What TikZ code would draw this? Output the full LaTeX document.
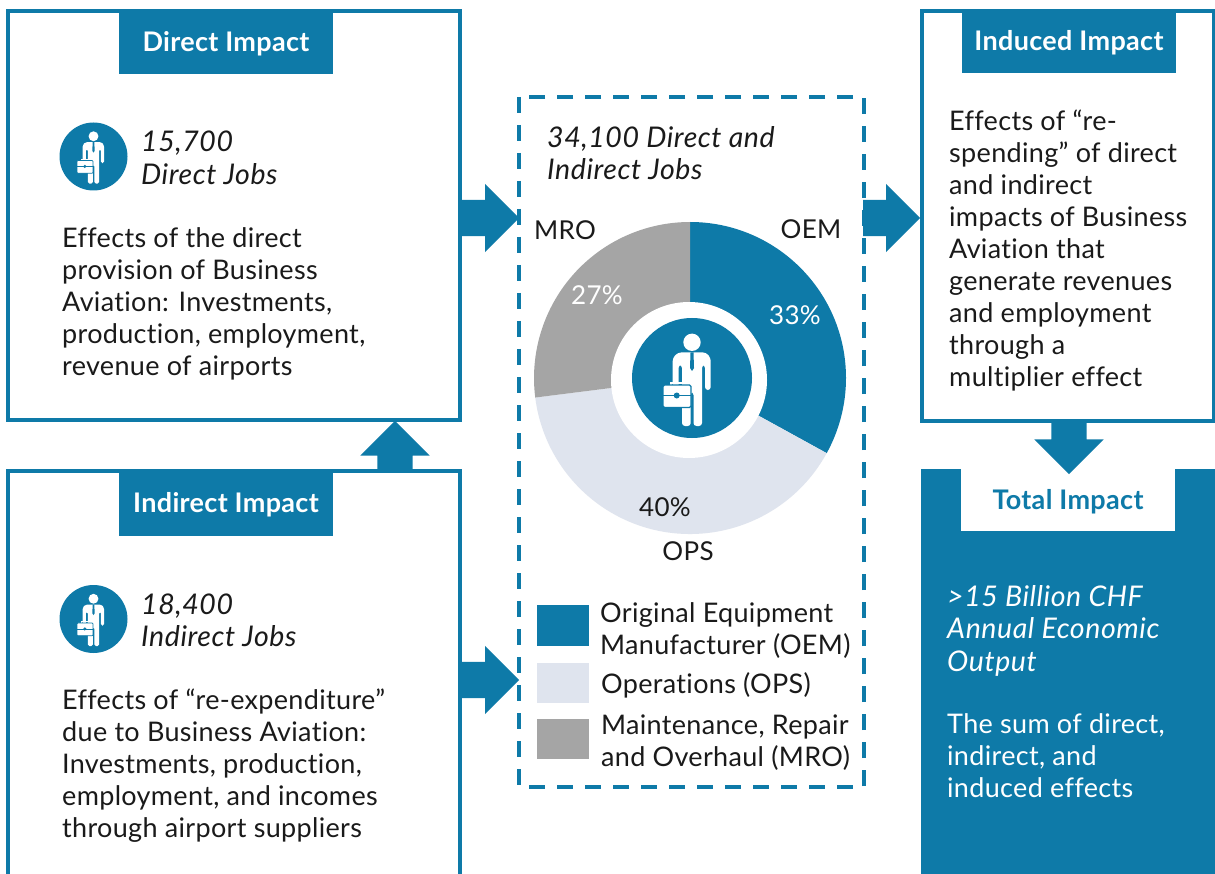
\documentclass[tikz,border=0pt]{standalone}
\usepackage{fontspec}
\setmainfont{Lato}[LetterSpace=1.2,Ligatures=NoCommon]
\usetikzlibrary{shapes.arrows}
\definecolor{tealblue}{HTML}{0E7AA8}
\definecolor{palegrey}{HTML}{DFE4EE}
\definecolor{midgrey}{HTML}{A5A5A5}
\definecolor{ink}{HTML}{1A1A1A}
\newcommand{\sz}{\fontsize{27}{32}\selectfont}
\newcommand{\manicon}[3]{% x, y, scale
  \begin{scope}[shift={(#1,#2)},scale=#3]
    \fill[white] (0,-35.7) circle (8.7);
    \fill[white,rounded corners=3*#3] (-19.3,12) -- (-19.3,-20) -- (-14,-25.5) -- (14,-25.5) -- (18.7,-20) -- (18.7,12) -- (13,12) -- (13,-13) -- (10,-13) -- (10,48) -- (1.5,48) -- (1.5,14) -- (-1.3,14) -- (-1.3,48) -- (-10,48) -- (-10,-13) -- (-13.5,-13) -- (-13.5,12) -- cycle;
    \fill[tealblue] (-1.5,-25.5) -- (1.5,-25.5) -- (2,-10) -- (0,-7) -- (-2,-10) -- cycle;
    \draw[white,line width=1.6*#3,fill=none] (-21,8) -- (-21,5) -- (-9,5) -- (-9,8);
    \fill[white,draw=tealblue,line width=1.2*#3,rounded corners=1.5*#3] (-29,7) rectangle (-1,29.5);
    \draw[tealblue,line width=1*#3] (-29,17.5) -- (-1,17.5);
    \fill[tealblue] (-15.3,17.5) circle (3);
  \end{scope}}
\tikzset{
  framebox/.style={draw=tealblue,line width=4pt,fill=white},
  headblue/.style={fill=tealblue,text=white,inner sep=0,font=\sz\bfseries,minimum width=214pt,minimum height=63pt,text height=15pt,text depth=0pt},
  headwhite/.style={fill=white,text=tealblue,inner sep=0,font=\sz\bfseries,minimum width=214pt,minimum height=62pt,text height=18pt,text depth=0pt},
  body/.style={anchor=north west,inner sep=0,align=left,font=\sz,text=ink},
  jobs/.style={anchor=north west,inner sep=0,align=left,font=\fontsize{28.5}{32.5}\selectfont\itshape\addfontfeature{LetterSpace=2},text=ink},
  swatch/.style={minimum width=52pt,inner sep=0,draw=none},
  blockh/.style={single arrow,anchor=tail,fill=tealblue,draw=none,inner xsep=0pt,inner ysep=18pt,single arrow head indent=0pt,minimum height=57pt,minimum width=68pt,single arrow head extend=16pt},
  blockv/.style={single arrow,anchor=tail,fill=tealblue,draw=none,inner ysep=0pt,inner xsep=17.5pt,single arrow head indent=0pt,minimum width=69pt,single arrow head extend=17pt},
  pct/.style={font=\fontsize{26}{32}\selectfont,inner sep=0},
  lbl/.style={font=\fontsize{26}{32}\selectfont,inner sep=0,text=ink}
}
\begin{document}
\begin{tikzpicture}[x=1pt,y=-1pt]
\useasboundingbox (0,0) rectangle (1215,874);
\fill[white] (0,0) rectangle (1215,874);

% frames
\node[framebox,minimum width=452pt,minimum height=409pt,inner sep=0] (direct) at (234,215.5) {};
\fill[white] (8,472) rectangle (460,874);
\draw[draw=tealblue,line width=4pt] (8,880) -- (8,471) -- (460,471) -- (460,880);
\node[framebox,minimum width=292pt,minimum height=410pt,inner sep=0] (induced) at (1068,216) {};
\fill[tealblue] (921,469) rectangle (1215,874);
\draw[dash pattern=on 16pt off 12pt,draw=tealblue,line width=4pt] (519,97) rectangle (864,787);

% headers
\node[headblue,text height=19pt] (hdirect) at (226,42.5) {Direct Impact};
\node[headblue] (hindirect) at (226,504.5) {Indirect Impact};
\node[headblue,text height=17pt] (hinduced) at (1069,42) {Induced Impact};
\node[headwhite] (htotal) at (1068,500) {Total Impact};

% arrows
\node[blockh] (a1) at (462,218) {};
\node[blockh] (a2) at (462,680) {};
\node[blockh] (a3) at (863,218) {};
\node[blockv,shape border rotate=90,minimum height=50pt] (a4) at (395,471) {};
\node[blockv,shape border rotate=270,minimum height=51pt] (a5) at (1069,423) {};

% pie
\fill[tealblue] (690,378) -- ++(90:156pt) arc[start angle=90,end angle=-28.8,radius=156pt] -- cycle;
\fill[palegrey] (690,378) -- ++(-28.8:156pt) arc[start angle=-28.8,end angle=-172.8,radius=156pt] -- cycle;
\fill[midgrey] (690,378) -- ++(-172.8:156pt) arc[start angle=-172.8,end angle=-270,radius=156pt] -- cycle;
\fill[white] (689,380) circle (78pt);
\fill[tealblue] (692,378) circle (60pt);
\manicon{692}{378}{1}

% small icons
\fill[tealblue] (93.5,156.5) circle (34pt);
\manicon{93.5}{156.5}{0.567}
\fill[tealblue] (93.5,619) circle (34pt);
\manicon{93.5}{619}{0.567}

% texts left
\node[jobs] (j1) at (141,131) {15,700\\Direct Jobs};
\node[body] (t1) at (62,227) {Effects of the direct\\provision of Business\\Aviation: Investments,\\production, employment,\\revenue of airports};
\node[jobs] (j2) at (141,593.5) {18,400\\Indirect Jobs};
\node[body] (t2) at (62,689) {Effects of “re-expenditure”\\due to Business Aviation:\\Investments, production,\\employment, and incomes\\through airport suppliers};

% centre
\node[jobs] (j3) at (547,126) {34,100 Direct and\\Indirect Jobs};
\node[lbl] (mro) at (565,230) {MRO};
\node[lbl] (oem) at (811,229) {OEM};
\node[lbl] (ops) at (688,551) {OPS};
\node[pct,text=white] (p33) at (795,315) {33\%};
\node[pct,text=white] (p27) at (597,295) {27\%};
\node[pct,text=ink] (p40) at (665,507) {40\%};

% legend
\node[swatch,fill=tealblue,minimum height=41pt] (k1) at (563,625.5) {};
\node[swatch,fill=palegrey,minimum height=40pt] (k2) at (563,683) {};
\node[swatch,fill=midgrey,minimum height=40pt] (k3) at (563,739) {};
\node[body] (l1) at (600,602) {Original Equipment\\Manufacturer (OEM)};
\node[body] (l2) at (601,672) {Operations (OPS)};
\node[body] (l3) at (601,715) {Maintenance, Repair\\and Overhaul (MRO)};

% right
\node[body] (t3) at (949,110) {Effects of “re-\\spending” of direct\\and indirect\\impacts of Business\\Aviation that\\generate revenues\\and employment\\through a\\multiplier effect};
\node[jobs,text=white] (j4) at (947,585) {>15 Billion CHF\\Annual Economic\\Output};
\node[body,text=white] (t4) at (947,713) {The sum of direct,\\indirect, and\\induced effects};
\end{tikzpicture}
\end{document}
